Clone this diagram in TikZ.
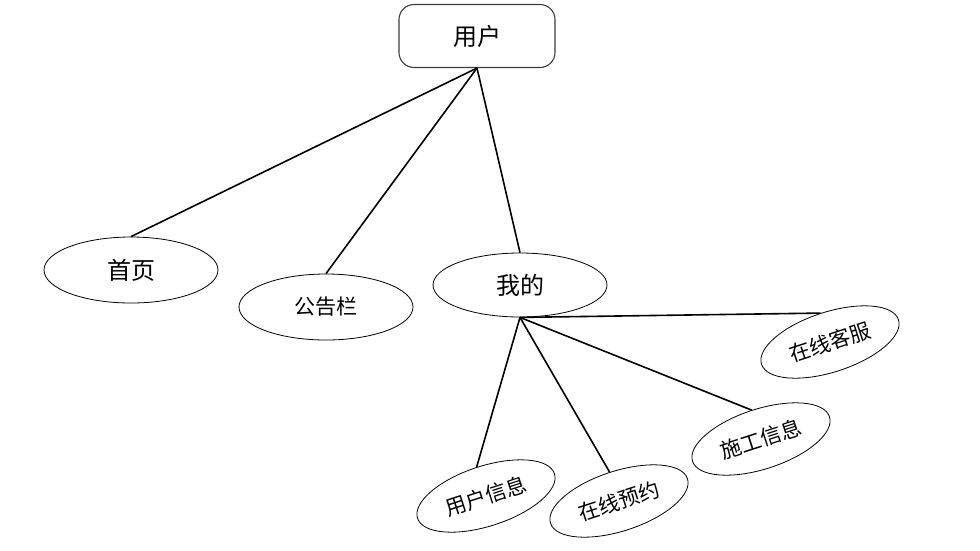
\documentclass[tikz,border=0pt]{standalone}
\usepackage{fontspec}
\newfontfamily\cjk{Noto Sans CJK SC}
\usepackage{tikz}
\usetikzlibrary{shapes.geometric}
\usepackage{xcolor}
\definecolor{boxline}{RGB}{60,60,60}

\tikzset{
  topbox/.style={draw=boxline, line width=1.1pt, rounded corners=15pt, minimum width=156pt, minimum height=63pt, font=\cjk\fontsize{24}{28}\selectfont},
  item/.style={ellipse, draw, line width=0.8pt, minimum width=174pt, minimum height=66pt, inner sep=0pt, font=\cjk\fontsize{24}{28}\selectfont},
  subitem/.style={ellipse, draw, line width=0.8pt, minimum width=144pt, minimum height=60pt, inner sep=0pt, rotate=18, font=\cjk\fontsize{21}{26}\selectfont},
  link/.style={line width=1.6pt}
}

\begin{document}
\begin{tikzpicture}[x=1pt, y=-1pt]
  \useasboundingbox (0,0) rectangle (980,550);
  % top node
  \node[topbox] (user) at (477,36) {用户};
  % first level
  \node[item] (home) at (131,270) {首页};
  \node[item, font=\cjk\fontsize{21}{26}\selectfont] (notice) at (326,307) {公告栏};
  \node[item, minimum height=64pt] (mine) at (520,285) {我的};
  % second level (tilted)
  \node[subitem] (info) at (486,496) {用户信息};
  \node[subitem] (book) at (619,501) {在线预约};
  \node[subitem] (work) at (761,439) {施工信息};
  \node[subitem] (service) at (830,342) {在线客服};
  % links
  \draw[link] (user.south) -- (home.north);
  \draw[link] (user.south) -- (notice.north);
  \draw[link] (user.south) -- (mine.north);
  \foreach \n in {info, book, work, service}
    \draw[link] (mine.south) -- (\n.north);
\end{tikzpicture}
\end{document}
